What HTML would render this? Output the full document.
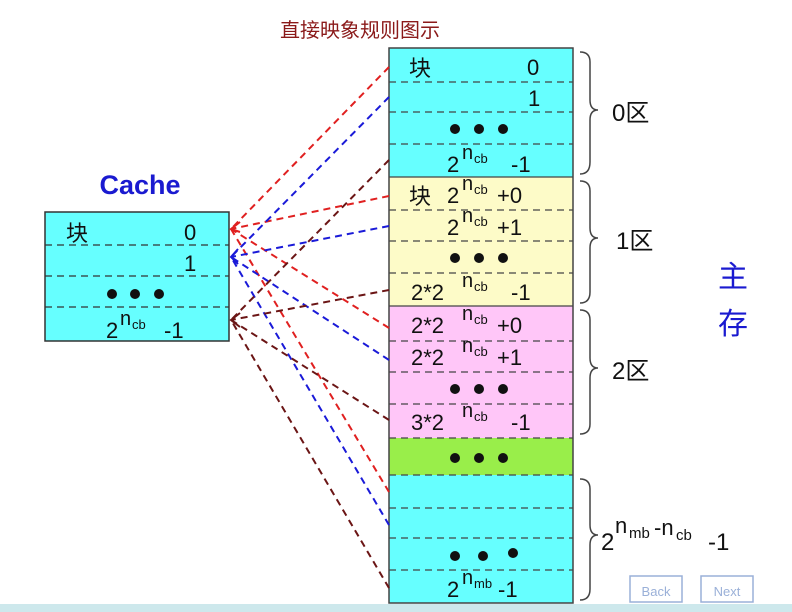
<!DOCTYPE html>
<html><head><meta charset="utf-8"><style>
html,body{margin:0;padding:0;background:#fff;}
svg{display:block;}
text{font-family:"Liberation Sans","Noto Sans CJK SC",sans-serif;}
.n{font-size:20px}.s{font-size:13px}
</style></head><body>
<svg width="792" height="612" viewBox="0 0 792 612" xmlns="http://www.w3.org/2000/svg">
<rect width="792" height="612" fill="#fff"/>
<text x="360" y="37" font-size="20" fill="#8b1a1a" text-anchor="middle" font-family="Noto Serif CJK SC, serif">直接映象规则图示</text>
<text x="140" y="194" font-size="27" font-weight="bold" fill="#1a1ad0" text-anchor="middle">Cache</text>
<rect x="45" y="212" width="184" height="129" fill="#66ffff" stroke="#333" stroke-width="1.5"/>
<g stroke="#333" stroke-dasharray="7,5" stroke-width="1.2">
<line x1="45" y1="245" x2="229" y2="245"/><line x1="45" y1="276" x2="229" y2="276"/><line x1="45" y1="307" x2="229" y2="307"/></g>
<g font-size="22" fill="#111">
<text x="66" y="241" font-family="Noto Sans CJK SC,sans-serif">块</text>
<text x="184" y="240">0</text><text x="184" y="271">1</text>
<text x="106" y="338">2</text><text x="120" y="325" class="n">n</text><text x="132" y="329" class="s">cb</text><text x="164" y="338">-1</text></g>
<g fill="#111"><circle cx="112" cy="294" r="5"/><circle cx="135" cy="294" r="5"/><circle cx="159" cy="294" r="5"/></g>
<rect x="389" y="48" width="184" height="129" fill="#66ffff"/>
<rect x="389" y="177" width="184" height="129" fill="#fdfbc8"/>
<rect x="389" y="306" width="184" height="132" fill="#ffc6f8"/>
<rect x="389" y="438" width="184" height="37" fill="#99ee4a"/>
<rect x="389" y="475" width="184" height="128" fill="#66ffff"/>
<rect x="389" y="48" width="184" height="555" fill="none" stroke="#444" stroke-width="1.5"/>
<g stroke="#444" stroke-width="1.3"><line x1="389" y1="177" x2="573" y2="177"/><line x1="389" y1="306" x2="573" y2="306"/></g>
<g stroke="#444" stroke-dasharray="7,5" stroke-width="1.2">
<line x1="389" y1="82" x2="573" y2="82"/><line x1="389" y1="112" x2="573" y2="112"/><line x1="389" y1="144" x2="573" y2="144"/>
<line x1="389" y1="210" x2="573" y2="210"/><line x1="389" y1="241" x2="573" y2="241"/><line x1="389" y1="273" x2="573" y2="273"/>
<line x1="389" y1="341" x2="573" y2="341"/><line x1="389" y1="372" x2="573" y2="372"/><line x1="389" y1="404" x2="573" y2="404"/>
<line x1="389" y1="438" x2="573" y2="438"/><line x1="389" y1="475" x2="573" y2="475"/>
<line x1="389" y1="508" x2="573" y2="508"/><line x1="389" y1="538" x2="573" y2="538"/><line x1="389" y1="570" x2="573" y2="570"/></g>
<g font-size="22" fill="#111">
<text x="409" y="76" font-family="Noto Sans CJK SC,sans-serif">块</text><text x="527" y="75">0</text>
<text x="528" y="106">1</text>
<text x="447" y="172">2</text><text x="462" y="159" class="n">n</text><text x="474" y="163" class="s">cb</text><text x="511" y="172">-1</text>
<text x="409" y="204" font-family="Noto Sans CJK SC,sans-serif">块</text>
<text x="447" y="203">2</text><text x="462" y="190" class="n">n</text><text x="474" y="194" class="s">cb</text><text x="497" y="203">+0</text>
<text x="447" y="235">2</text><text x="462" y="222" class="n">n</text><text x="474" y="226" class="s">cb</text><text x="497" y="235">+1</text>
<text x="411" y="300">2*2</text><text x="462" y="287" class="n">n</text><text x="474" y="291" class="s">cb</text><text x="511" y="300">-1</text>
<text x="411" y="333">2*2</text><text x="462" y="320" class="n">n</text><text x="474" y="324" class="s">cb</text><text x="497" y="333">+0</text>
<text x="411" y="365">2*2</text><text x="462" y="352" class="n">n</text><text x="474" y="356" class="s">cb</text><text x="497" y="365">+1</text>
<text x="411" y="430">3*2</text><text x="462" y="417" class="n">n</text><text x="474" y="421" class="s">cb</text><text x="511" y="430">-1</text>
<text x="447" y="597">2</text><text x="462" y="584" class="n">n</text><text x="474" y="588" class="s">mb</text><text x="498" y="597">-1</text>
</g>
<g fill="#111">
<circle cx="455" cy="129" r="5"/><circle cx="479" cy="129" r="5"/><circle cx="503" cy="129" r="5"/>
<circle cx="455" cy="258" r="5"/><circle cx="479" cy="258" r="5"/><circle cx="503" cy="258" r="5"/>
<circle cx="455" cy="389" r="5"/><circle cx="479" cy="389" r="5"/><circle cx="503" cy="389" r="5"/>
<circle cx="455" cy="458" r="5"/><circle cx="479" cy="458" r="5"/><circle cx="503" cy="458" r="5"/>
<circle cx="455" cy="556" r="5"/><circle cx="483" cy="556" r="5"/><circle cx="513" cy="553" r="5"/>
</g>
<g fill="none" stroke="#444" stroke-width="1.5">
<path d="M580,52 Q590,52 590,62 L590,100 Q590,110 598,110 Q590,110 590,120 L590,162 Q590,174 580,174"/>
<path d="M580,181 Q590,181 590,191 L590,228 Q590,238 598,238 Q590,238 590,248 L590,292 Q590,303 580,303"/>
<path d="M580,310 Q590,310 590,320 L590,358 Q590,368 598,368 Q590,368 590,378 L590,424 Q590,434 580,434"/>
<path d="M580,479 Q590,479 590,489 L590,525 Q590,535 598,535 Q590,535 590,545 L590,589 Q590,600 580,600"/>
</g>
<g font-size="24" fill="#111">
<text x="612" y="121">0<tspan font-family="Noto Sans CJK SC,sans-serif">区</tspan></text>
<text x="616" y="249">1<tspan font-family="Noto Sans CJK SC,sans-serif">区</tspan></text>
<text x="612" y="379">2<tspan font-family="Noto Sans CJK SC,sans-serif">区</tspan></text>
<text x="601" y="550">2</text><text x="615" y="533" font-size="22">n</text><text x="629" y="538" font-size="15">mb</text><text x="654" y="535" font-size="22">-n</text><text x="676" y="540" font-size="15">cb</text><text x="708" y="550">-1</text>
</g>
<text x="733" y="287" font-size="30" fill="#1a1ad0" text-anchor="middle" font-family="Noto Sans CJK SC,sans-serif">主</text>
<text x="733" y="334" font-size="30" fill="#1a1ad0" text-anchor="middle" font-family="Noto Sans CJK SC,sans-serif">存</text>
<g fill="none" stroke-width="2" stroke-dasharray="7,5">
<g stroke="#e02020">
<line x1="389" y1="67" x2="231" y2="229"/><line x1="389" y1="196" x2="231" y2="229"/><line x1="389" y1="328" x2="231" y2="229"/><line x1="389" y1="492" x2="231" y2="229"/></g>
<g stroke="#1a1ad8">
<line x1="389" y1="97" x2="231" y2="257"/><line x1="389" y1="226" x2="231" y2="257"/><line x1="389" y1="360" x2="231" y2="257"/><line x1="389" y1="525" x2="231" y2="257"/></g>
<g stroke="#6b1515">
<line x1="389" y1="160" x2="231" y2="320"/><line x1="389" y1="290" x2="231" y2="320"/><line x1="389" y1="420" x2="231" y2="320"/><line x1="389" y1="588" x2="231" y2="320"/></g>
</g>
<g fill="none" stroke-width="2">
<path d="M240,222 L231,229 L240,232" stroke="#e02020"/>
<path d="M238,249 L231,257 L238,264" stroke="#1a1ad8"/>
<path d="M240,313 L231,320 L240,327" stroke="#6b1515"/>
</g>
<g fill="none" stroke="#9ab0d8" stroke-width="1.5"><rect x="630" y="576" width="52" height="26"/><rect x="701" y="576" width="52" height="26"/></g>
<text x="656" y="596" font-size="13" fill="#9ab0d8" text-anchor="middle">Back</text>
<text x="727" y="596" font-size="13" fill="#9ab0d8" text-anchor="middle">Next</text>
<rect x="0" y="604" width="792" height="8" fill="#cde8ec"/>
</svg>
</body></html>
